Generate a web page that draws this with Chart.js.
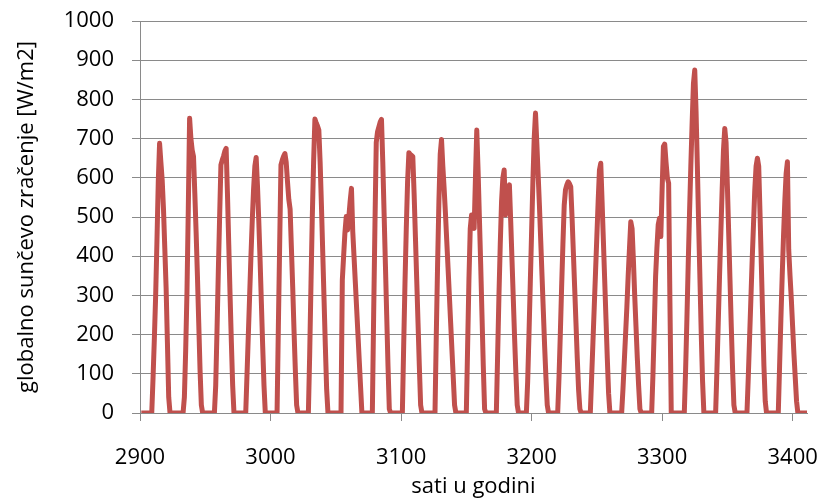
<!DOCTYPE html>
<html>
<head>
<meta charset="utf-8">
<style>
html,body{margin:0;padding:0;background:#fff;}
#wrap{width:822px;height:500px;}
</style>
<script src="https://cdn.jsdelivr.net/npm/chart.js@4.4.0/dist/chart.umd.min.js"></script>
</head>
<body>
<div id="wrap"><canvas id="c" width="822" height="500"></canvas></div>
<script>
// hour of the year for the first value
const firstHour = 2901;
const leadZeros = [0,0,0];
// hourly global solar radiation, one row per day (hours 0..23)
const day01 = [0,0,0,0,0,0,90,190,300,440,590,688,640,594,520,420,320,180,40,0,0,0,0,0];
const day02 = [0,0,0,0,0,0,40,160,310,520,752,700,670,654,560,460,350,230,110,20,0,0,0,0];
const day03 = [0,0,0,0,0,0,70,210,360,500,633,645,655,668,675,560,430,300,180,70,0,0,0,0];
const day04 = [0,0,0,0,0,0,100,200,300,400,490,570,630,652,580,490,390,280,170,70,0,0,0,0];
const day05 = [0,0,0,0,0,0,220,430,633,645,655,662,640,590,545,520,420,320,210,110,20,0,0,0];
const day06 = [0,0,0,0,0,0,150,330,500,640,750,740,732,722,640,530,410,290,170,60,0,0,0,0];
const day07 = [0,0,0,0,0,0,0,339,400,460,501,467,500,540,573,463,397,331,265,199,132,66,0,0];
const day08 = [0,0,0,0,0,0,0,250,480,690,718,730,742,749,640,510,380,250,120,10,0,0,0,0];
const day09 = [0,0,0,0,0,0,170,330,470,590,664,660,657,654,560,450,340,230,120,20,0,0,0,0];
const day10 = [0,0,0,0,0,0,0,200,380,540,660,698,630,573,510,440,370,300,230,160,90,20,0,0];
const day11 = [0,0,0,0,0,0,0,170,340,470,505,485,471,600,722,620,500,380,250,120,10,0,0,0];
const day12 = [0,0,0,0,0,0,150,300,430,540,600,620,505,540,570,582,490,390,290,190,100,20,0,0];
const day13 = [0,0,0,0,0,80,200,330,460,590,700,765,690,610,530,440,350,260,170,90,20,0,0,0];
const day14 = [0,0,0,0,0,90,200,320,430,530,570,582,590,585,577,500,410,320,230,140,60,10,0,0];
const day15 = [0,0,0,0,0,0,90,180,270,360,450,540,620,637,540,440,340,240,140,50,0,0,0,0];
const day16 = [0,0,0,0,0,0,60,130,200,270,350,420,488,470,390,300,220,140,70,10,0,0,0,0];
const day17 = [0,0,0,0,0,100,220,348,420,480,497,450,570,680,686,640,600,586,280,0,0,0,0,0];
const day18 = [0,0,0,0,0,0,110,240,380,510,630,740,840,875,770,630,480,340,200,80,0,0,0,0];
const day19 = [0,0,0,0,0,0,110,230,350,460,570,670,726,690,580,460,340,220,110,20,0,0,0,0];
const day20 = [0,0,0,0,0,0,90,190,290,390,480,570,630,650,630,510,380,250,120,30,0,0,0,0];
const day21 = [0,0,0,0,0,0,120,240,350,450,540,610,641,416,350,290,220,150,90,30,0,0,0,0];
const tailZeros = [0,0,0,0];

const xTicks = [2900,3000,3100,3200,3300,3400];
const yTicks = [0,100,200,300,400,500,600,700,800,900,1000];
const xTitle = 'sati u godini';
const yTitle = 'globalno sunčevo zračenje [W/m2]';

const values = leadZeros.concat(day01,day02,day03,day04,day05,day06,day07,day08,day09,day10,
  day11,day12,day13,day14,day15,day16,day17,day18,day19,day20,day21,tailZeros);
const points = values.map((v,i)=>({x:firstHour+i, y:v}));

const FONT = 'Open Sans';
const GRID = '#8a8a8a';

new Chart(document.getElementById('c'), {
  type:'line',
  data:{datasets:[{
    data:points,
    borderColor:'#C0504D',
    borderWidth:5,
    pointRadius:0,
    tension:0,
    borderJoinStyle:'round',
    fill:false
  }]},
  options:{
    responsive:false,
    animation:false,
    devicePixelRatio:1,
    layout:{padding:{top:21,right:15,bottom:0,left:0}},
    plugins:{legend:{display:false},tooltip:{enabled:false}},
    scales:{
      x:{
        type:'linear',
        min:2900,max:3411,
        afterBuildTicks:s=>{s.ticks=xTicks.map(v=>({value:v}));},
        afterFit:s=>{s.height=87;s.paddingLeft=0;s.paddingRight=0;},
        grid:{drawOnChartArea:false,drawTicks:true,tickLength:8,color:GRID,lineWidth:1},
        border:{display:true,color:GRID,width:1},
        ticks:{autoSkip:false,maxRotation:0,padding:24,color:'#000',font:{family:FONT,size:22},callback:v=>String(v)},
        title:{display:true,text:xTitle,color:'#000',font:{family:FONT,size:22},padding:{top:0,bottom:0}}
      },
      y:{
        min:0,max:1000,
        afterBuildTicks:s=>{s.ticks=yTicks.map(v=>({value:v}));},
        afterFit:s=>{s.width=140;s.paddingTop=0;s.paddingBottom=0;},
        grid:{color:GRID,lineWidth:1,tickLength:8,drawTicks:true},
        border:{display:true,color:GRID,width:1},
        ticks:{padding:18,color:'#000',font:{family:FONT,size:22},callback:v=>String(v)},
        title:{display:true,text:yTitle,color:'#000',font:{family:FONT,size:22},padding:{top:14,bottom:0}}
      }
    }
  }
});
</script>
</body>
</html>
